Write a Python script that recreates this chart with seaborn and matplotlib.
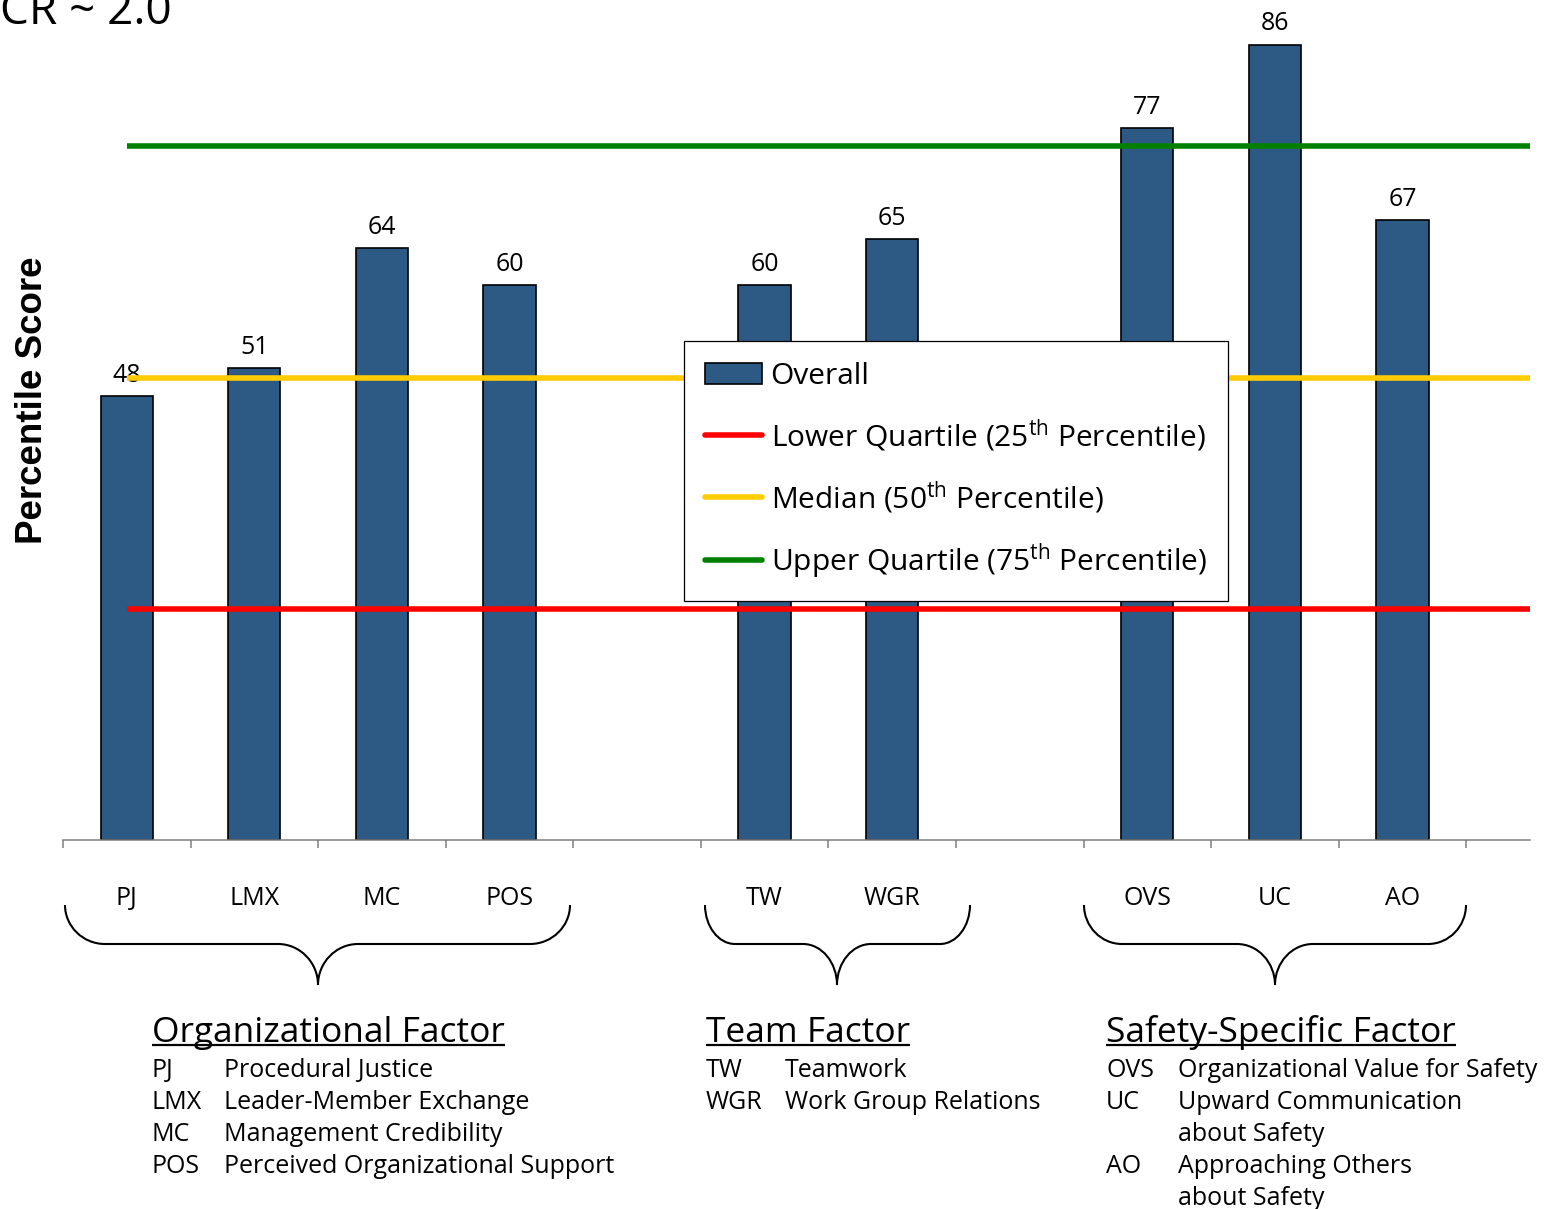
import matplotlib
matplotlib.use("Agg")
import matplotlib.pyplot as plt
import seaborn as sns
import pandas as pd
import numpy as np
from matplotlib.patches import Patch, PathPatch
from matplotlib.lines import Line2D
from matplotlib.path import Path

# ---- data -------------------------------------------------------------
categories = ["PJ", "LMX", "MC", "POS", "TW", "WGR", "OVS", "UC", "AO"]
scores = [48, 51, 64, 60, 60, 65, 77, 86, 67]

# axis slots; blank slots separate the three factor groups
slots = ["PJ", "LMX", "MC", "POS", "_gap1", "TW", "WGR", "_gap2", "OVS", "UC", "AO", "_end"]
tick_labels = ["PJ", "LMX", "MC", "POS", "", "TW", "WGR", "", "OVS", "UC", "AO", ""]

quartile_values = [25, 50, 75]
quartile_labels = [
    r"Lower Quartile (25$^{\mathrm{th}}$ Percentile)",
    r"Median (50$^{\mathrm{th}}$ Percentile)",
    r"Upper Quartile (75$^{\mathrm{th}}$ Percentile)",
]
quartile_colors = ["#FF0000", "#FFCC00", "#008000"]

org_title = "Organizational Factor"
org_abbrev = ["PJ", "LMX", "MC", "POS"]
org_names = ["Procedural Justice", "Leader-Member Exchange",
             "Management Credibility", "Perceived Organizational Support"]

team_title = "Team Factor"
team_abbrev = ["TW", "WGR"]
team_names = ["Teamwork", "Work Group Relations"]

safety_title = "Safety-Specific Factor"
safety_abbrev = ["OVS", "UC", "AO"]
safety_names = ["Organizational Value for Safety",
                "Upward Communication\nabout Safety",
                "Approaching Others\nabout Safety"]

header_text = "CR ~ 2.0"

BAR_COLOR = "#2D5985"
TEXT_FONT = ["Open Sans", "DejaVu Sans"]

# ---- style --------------------------------------------------------------
sns.set_theme(style="white")
plt.rcParams["font.family"] = TEXT_FONT
plt.rcParams["text.color"] = "black"
plt.rcParams["axes.labelcolor"] = "black"
plt.rcParams["xtick.color"] = "black"
plt.rcParams["ytick.color"] = "black"
plt.rcParams["mathtext.fontset"] = "custom"
plt.rcParams["mathtext.rm"] = "Open Sans"
plt.rcParams["mathtext.it"] = "Open Sans:italic"
plt.rcParams["mathtext.bf"] = "Open Sans:bold"

W, H, DPI = 1550, 1209, 100
fig = plt.figure(figsize=(W / DPI, H / DPI), dpi=DPI)
fig.patch.set_facecolor("white")

# main chart area (pixel box converted to figure fractions)
ax_left, ax_right, ax_top, ax_bottom = 63, 1530, 0, 840
ax = fig.add_axes([ax_left / W, 1 - ax_bottom / H,
                   (ax_right - ax_left) / W, (ax_bottom - ax_top) / H])

df = pd.DataFrame({"factor": categories, "score": scores})
sns.barplot(data=df, x="factor", y="score", order=slots, color=BAR_COLOR,
            saturation=1, width=0.41, errorbar=None,
            edgecolor="black", linewidth=1.2, zorder=2, ax=ax)

ax.bar_label(ax.containers[0], labels=[str(v) for v in scores],
             padding=6, fontsize=18, color="black")

for val, col in zip(quartile_values, quartile_colors):
    ax.hlines(val, 0, len(slots) - 1, colors=col, linewidth=4, zorder=3)

ax.set_xlim(-0.5, len(slots) - 1)
ax.set_ylim(0, 90.83)

ax.set_xticks(range(len(slots)))
ax.set_xticklabels(tick_labels, fontsize=18, color="black")
ax.tick_params(axis="x", which="major", length=0, pad=33)
ax.set_xticks(np.arange(-0.5, len(slots) - 1, 1.0), minor=True)
ax.tick_params(axis="x", which="minor", length=5.5, width=1.1,
               color="#7F7F7F", direction="out", bottom=True)
ax.set_yticks([])
ax.set_xlabel("")
for side in ("top", "right", "left"):
    ax.spines[side].set_visible(False)
ax.spines["bottom"].set_color("#7F7F7F")
ax.spines["bottom"].set_linewidth(1.1)

ax.set_ylabel("Percentile Score", fontsize=26.5, fontweight="bold",
              family=["Liberation Sans", "DejaVu Sans"], va="center",
              color="black")
ax.yaxis.set_label_coords((33 - ax_left) / (ax_right - ax_left),
                          1 - 400 / (ax_bottom - ax_top))

handles = [Patch(facecolor=BAR_COLOR, edgecolor="black", linewidth=1.2)]
handles += [Line2D([0], [0], color=c, linewidth=4) for c in quartile_colors]
labels = ["Overall"] + quartile_labels
leg = ax.legend(handles, labels, loc="upper left",
                bbox_to_anchor=((684 - ax_left) / (ax_right - ax_left),
                                1 - 341 / (ax_bottom - ax_top)),
                borderaxespad=0, fontsize=21.5, frameon=True, fancybox=False,
                framealpha=1, facecolor="white",
                handlelength=1.9, handleheight=0.72, handletextpad=0.3,
                labelspacing=0.88, borderpad=0.7)
leg.get_frame().set_edgecolor("black")
leg.get_frame().set_linewidth(0.9)
leg.set_zorder(5)
for txt in leg.get_texts():
    txt.set_color("black")

# ---- annotation layer in pixel coordinates -----------------------------
ov = fig.add_axes([0, 0, 1, 1], zorder=10)
ov.set_xlim(0, W)
ov.set_ylim(H, 0)
ov.axis("off")

ov.text(0, 24, header_text, fontsize=33, va="baseline", ha="left")


def brace(x0, x1, xc, y_top=905, y_mid=944, y_tip=985, r_end=40, r_mid=40):
    dy = y_mid - y_top
    dt = y_tip - y_mid
    verts = [
        (x0, y_top),
        (x0, y_top + 0.55 * dy), (x0 + 0.45 * r_end, y_mid), (x0 + r_end, y_mid),
        (xc - r_mid, y_mid),
        (xc - 0.45 * r_mid, y_mid), (xc, y_mid + 0.45 * dt), (xc, y_tip),
        (xc, y_mid + 0.45 * dt), (xc + 0.45 * r_mid, y_mid), (xc + r_mid, y_mid),
        (x1 - r_end, y_mid),
        (x1 - 0.45 * r_end, y_mid), (x1, y_top + 0.55 * dy), (x1, y_top),
    ]
    codes = [Path.MOVETO,
             Path.CURVE4, Path.CURVE4, Path.CURVE4,
             Path.LINETO,
             Path.CURVE4, Path.CURVE4, Path.CURVE4,
             Path.CURVE4, Path.CURVE4, Path.CURVE4,
             Path.LINETO,
             Path.CURVE4, Path.CURVE4, Path.CURVE4]
    ov.add_patch(PathPatch(Path(verts, codes), facecolor="none",
                           edgecolor="black", linewidth=1.5))


brace(65, 570, 318, r_end=40, r_mid=40)
brace(705, 970, 837, r_end=30, r_mid=34)
brace(1084, 1466, 1275, r_end=38, r_mid=38)

titles = []


def legend_block(x_abbr, x_name, title, abbrevs, names,
                 title_y=1042, first_y=1077, step=32):
    t = ov.text(x_abbr, title_y, title, fontsize=25.5, va="baseline", ha="left")
    titles.append(t)
    y = first_y
    for ab, nm in zip(abbrevs, names):
        ov.text(x_abbr, y, ab, fontsize=18, va="baseline", ha="left")
        for line in nm.split("\n"):
            ov.text(x_name, y, line, fontsize=18, va="baseline", ha="left")
            y += step


legend_block(152, 224, org_title, org_abbrev, org_names)
legend_block(706, 785, team_title, team_abbrev, team_names)
legend_block(1106, 1178, safety_title, safety_abbrev, safety_names)

# underline the group titles
fig.canvas.draw()
renderer = fig.canvas.get_renderer()
inv = ov.transData.inverted()
for t in titles:
    bb = t.get_window_extent(renderer)
    (x0, _), (x1, _) = inv.transform([(bb.x0, bb.y0), (bb.x1, bb.y0)])
    ov.plot([x0, x1], [1045, 1045], color="black", linewidth=1.6,
            solid_capstyle="butt")

fig.savefig("out.png", dpi=DPI, facecolor="white")
